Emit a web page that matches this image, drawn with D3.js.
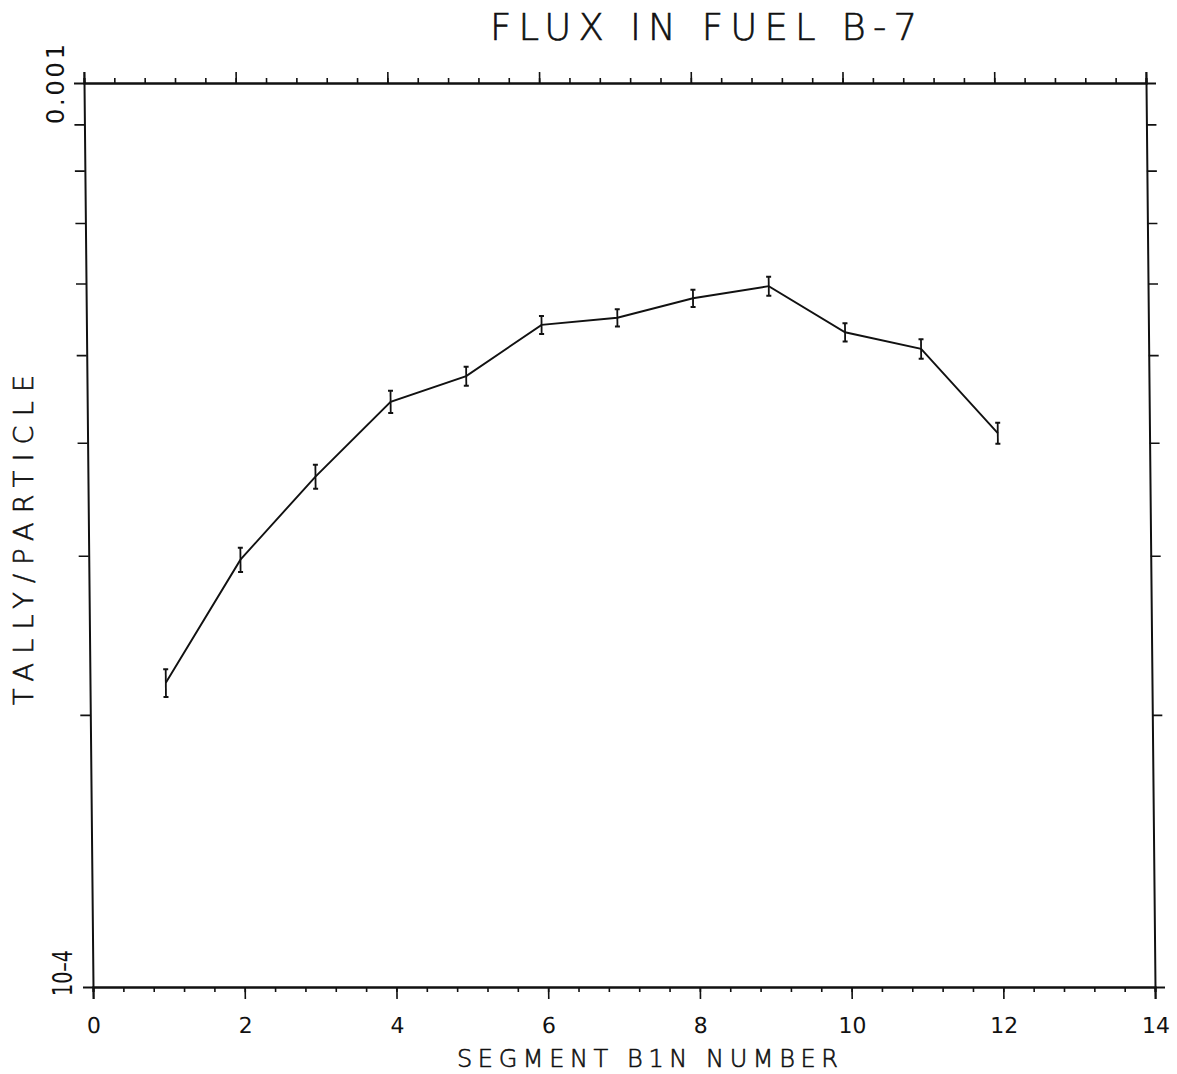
<!DOCTYPE html>
<html>
<head>
<meta charset="utf-8">
<script src="https://cdn.jsdelivr.net/npm/d3@7"></script>
<style>
  body { margin: 0; background: #fff; }
  svg text { font-family: "DejaVu Sans", sans-serif; fill: #111; }
  .thin { font-weight: 200; stroke: #111; stroke-width: 0.6px; }
</style>
</head>
<body>
<div id="chart"></div>
<script>
// Segment bin number and tally/particle values
var binNumbers = [1, 2, 3, 4, 5, 6, 7, 8, 9, 10, 11, 12];
var tallyValues = [2.17e-4, 2.97e-4, 3.67e-4, 4.44e-4, 4.74e-4, 5.40e-4, 5.50e-4, 5.78e-4, 5.96e-4, 5.30e-4, 5.08e-4, 4.10e-4];
var tallyErrors = [0.77e-5, 0.92e-5, 1.13e-5, 1.25e-5, 1.15e-5, 1.24e-5, 1.21e-5, 1.27e-5, 1.43e-5, 1.22e-5, 1.27e-5, 1.10e-5];

var xMajorTicks = [0, 2, 4, 6, 8, 10, 12, 14];
var xMinorTicks = d3.range(0, 14.01, 0.4);
var yMinorTicks = [2e-4, 3e-4, 4e-4, 5e-4, 6e-4, 7e-4, 8e-4, 9e-4];

var svgWidth = 1177;
var svgHeight = 1074;

// plot frame
var chartMargin = { top: 83, right: 22, bottom: 87, left: 93 };
var width = svgWidth - chartMargin.left - chartMargin.right;
var height = svgHeight - chartMargin.top - chartMargin.bottom;

var svg = d3.select("#chart")
    .append("svg")
    .attr("width", svgWidth)
    .attr("height", svgHeight);

// the scanned plot leans a little: shear it around its bottom edge
var chartGroup = svg.append("g")
    .attr("transform", `translate(${chartMargin.left}, ${chartMargin.top + height}) skewX(0.57) translate(0, ${-height})`);

var xScale = d3.scaleLinear().domain([0, 14]).range([0, width]);
var yScale = d3.scaleLog().domain([1e-4, 1e-3]).range([height, 0]);

function styleAxis(g) {
    g.selectAll("path.domain").attr("stroke", "#111").attr("stroke-width", 2);
    g.selectAll(".tick line").attr("stroke", "#111").attr("stroke-width", 1.6);
}

// bottom axis: minor then major with labels
chartGroup.append("g")
    .attr("transform", `translate(0, ${height})`)
    .call(d3.axisBottom(xScale).tickValues(xMinorTicks).tickSize(5).tickFormat(""))
    .call(styleAxis);

var xAxisGroup = chartGroup.append("g")
    .attr("transform", `translate(0, ${height})`)
    .call(d3.axisBottom(xScale).tickValues(xMajorTicks).tickSize(12).tickPadding(18).tickFormat(d3.format("d")))
    .call(styleAxis);
xAxisGroup.selectAll(".tick text")
    .attr("font-size", "22px")
    .attr("font-family", "DejaVu Sans, sans-serif")
    .attr("fill", "#111");

// top axis
chartGroup.append("g")
    .call(d3.axisTop(xScale).tickValues(xMinorTicks).tickSize(5).tickFormat(""))
    .call(styleAxis);
chartGroup.append("g")
    .call(d3.axisTop(xScale).tickValues(xMajorTicks).tickSize(11).tickFormat(""))
    .call(styleAxis);

// left and right axes (log minor ticks only)
chartGroup.append("g")
    .call(d3.axisLeft(yScale).tickValues(yMinorTicks).tickSize(10).tickFormat(""))
    .call(styleAxis);
chartGroup.append("g")
    .attr("transform", `translate(${width}, 0)`)
    .call(d3.axisRight(yScale).tickValues(yMinorTicks).tickSize(10).tickFormat(""))
    .call(styleAxis);

// error bars
var bars = chartGroup.append("g")
    .selectAll("g")
    .data(binNumbers)
    .enter()
    .append("g");

bars.append("line")
    .attr("x1", (d, i) => xScale(d))
    .attr("x2", (d, i) => xScale(d))
    .attr("y1", (d, i) => yScale(tallyValues[i] - tallyErrors[i]))
    .attr("y2", (d, i) => yScale(tallyValues[i] + tallyErrors[i]))
    .attr("stroke", "#111")
    .attr("stroke-width", 1.8);

[-1, 1].forEach(function(sign) {
    bars.append("line")
        .attr("x1", (d, i) => xScale(d) - 2.5)
        .attr("x2", (d, i) => xScale(d) + 2.5)
        .attr("y1", (d, i) => yScale(tallyValues[i] + sign * tallyErrors[i]))
        .attr("y2", (d, i) => yScale(tallyValues[i] + sign * tallyErrors[i]))
        .attr("stroke", "#111")
        .attr("stroke-width", 2);
});

// the tally line
var line = d3.line()
    .x((d, i) => xScale(binNumbers[i]))
    .y(d => yScale(d));

chartGroup.append("path")
    .datum(tallyValues)
    .attr("d", line)
    .attr("fill", "none")
    .attr("stroke", "#111")
    .attr("stroke-width", 1.9);

// y end labels, rotated
svg.append("text")
    .attr("transform", "translate(64, 124) rotate(-90)")
    .attr("font-size", "24px")
    .attr("textLength", 80)
    .attr("lengthAdjust", "spacing")
    .text("0.001");

svg.append("text")
    .attr("transform", "translate(72, 996) rotate(-90)")
    .attr("font-size", "26px")
    .attr("textLength", 46)
    .attr("lengthAdjust", "spacingAndGlyphs")
    .text("10\u20134");

// titles
svg.append("text")
    .attr("class", "thin")
    .attr("x", 490)
    .attr("y", 40)
    .attr("font-size", "37px")
    .attr("textLength", 427)
    .attr("lengthAdjust", "spacing")
    .text("FLUX IN FUEL B-7");

svg.append("text")
    .attr("class", "thin")
    .attr("x", 457)
    .attr("y", 1067)
    .attr("font-size", "24px")
    .attr("textLength", 381)
    .attr("lengthAdjust", "spacing")
    .text("SEGMENT B1N NUMBER");

svg.append("text")
    .attr("class", "thin")
    .attr("transform", "translate(33, 705) rotate(-90)")
    .attr("font-size", "27px")
    .attr("textLength", 330)
    .attr("lengthAdjust", "spacing")
    .text("TALLY/PARTICLE");
</script>
</body>
</html>
